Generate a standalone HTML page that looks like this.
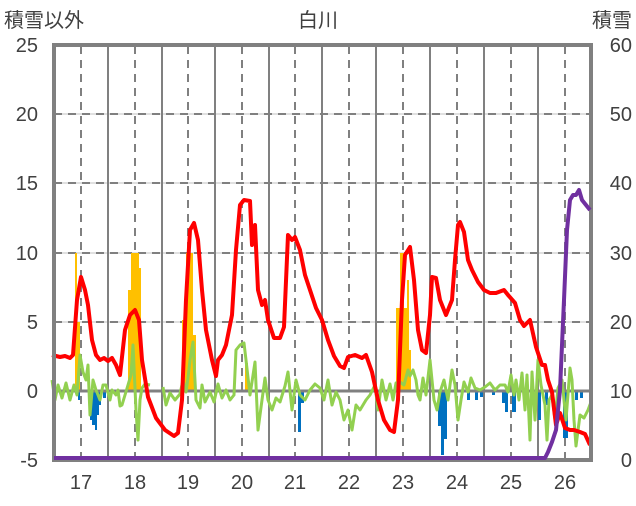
<!DOCTYPE html><html><head><meta charset="utf-8"><style>
body{margin:0;background:#fff}
svg text{font-family:"Liberation Sans","Noto Sans CJK JP",sans-serif;fill:#404040}
</style></head><body>
<svg width="636" height="501" xmlns="http://www.w3.org/2000/svg">
<g stroke="#c0c0c0" stroke-width="1"><line x1="54" y1="114" x2="591" y2="114"/><line x1="54" y1="183" x2="591" y2="183"/><line x1="54" y1="253" x2="591" y2="253"/><line x1="54" y1="322" x2="591" y2="322"/></g>
<g stroke="#808080" stroke-width="2" stroke-dasharray="8,6"><line x1="54" y1="114" x2="591" y2="114"/><line x1="54" y1="183" x2="591" y2="183"/><line x1="54" y1="253" x2="591" y2="253"/><line x1="54" y1="322" x2="591" y2="322"/>
<line x1="81" y1="46" x2="81" y2="460"/><line x1="135" y1="46" x2="135" y2="460"/><line x1="188" y1="46" x2="188" y2="460"/><line x1="242" y1="46" x2="242" y2="460"/><line x1="295" y1="46" x2="295" y2="460"/><line x1="349" y1="46" x2="349" y2="460"/><line x1="403" y1="46" x2="403" y2="460"/><line x1="457" y1="46" x2="457" y2="460"/><line x1="511" y1="46" x2="511" y2="460"/><line x1="565" y1="46" x2="565" y2="460"/></g>
<g stroke="#808080" stroke-width="2"><line x1="108" y1="46" x2="108" y2="460"/><line x1="162" y1="46" x2="162" y2="460"/><line x1="215" y1="46" x2="215" y2="460"/><line x1="269" y1="46" x2="269" y2="460"/><line x1="322" y1="46" x2="322" y2="460"/><line x1="376" y1="46" x2="376" y2="460"/><line x1="430" y1="46" x2="430" y2="460"/><line x1="484" y1="46" x2="484" y2="460"/><line x1="538" y1="46" x2="538" y2="460"/></g>
<g fill="#ffc000">
<rect x="75" y="253" width="2" height="138"/><rect x="77" y="322" width="3" height="69"/>
<rect x="128" y="290" width="3" height="101"/><rect x="131" y="253" width="8" height="138"/><rect x="139" y="268" width="2" height="123"/>
<rect x="182" y="320" width="4" height="71"/><rect x="186" y="253" width="7" height="138"/><rect x="193" y="335" width="3" height="56"/>
<rect x="245" y="363" width="3" height="28"/>
<rect x="396" y="308" width="4" height="83"/><rect x="400" y="253" width="4" height="138"/><rect x="404" y="308" width="3" height="83"/><rect x="407" y="280" width="2" height="111"/><rect x="409" y="350" width="2" height="41"/>
</g>
<g fill="#0070c0">
<rect x="78" y="391" width="2" height="9"/><rect x="90" y="391" width="2" height="29"/><rect x="92" y="391" width="3" height="34"/><rect x="95" y="391" width="2" height="39"/><rect x="97" y="391" width="2" height="24"/><rect x="99" y="391" width="2" height="14"/><rect x="103" y="391" width="3" height="7"/>
<rect x="298" y="391" width="3" height="41"/><rect x="301" y="391" width="3" height="12"/>
<rect x="438" y="391" width="3" height="35"/><rect x="441" y="391" width="3" height="64"/><rect x="444" y="391" width="3" height="48"/>
<rect x="467" y="391" width="3" height="9"/><rect x="475" y="391" width="3" height="9"/><rect x="480" y="391" width="3" height="6"/><rect x="492" y="391" width="3" height="4"/><rect x="502" y="391" width="3" height="12"/><rect x="505" y="391" width="3" height="21"/><rect x="512" y="391" width="4" height="21"/><rect x="530" y="391" width="4" height="9"/><rect x="538" y="391" width="3" height="29"/><rect x="545" y="391" width="3" height="14"/><rect x="563" y="391" width="5" height="47"/><rect x="575" y="391" width="3" height="9"/><rect x="580" y="391" width="3" height="7"/>
</g>
<line x1="54" y1="391" x2="591" y2="391" stroke="#808080" stroke-width="3"/>
<polyline fill="none" stroke="#92d050" stroke-width="3" stroke-linejoin="round" points="52,380 55,400 58,385 62,398 66,383 70,400 74,385 77,395 80,355 83,372 86,380 88,365 90,415 93,380 96,390 100,400 103,385 106,385 110,400 112,390 116,395 118,390 120,406 122,405 125,395 128,385 131,375 133,345 136,410 138,440 140,400 142,388 145,384 150,385"/>
<polyline fill="none" stroke="#92d050" stroke-width="3" stroke-linejoin="round" points="163,387 166,405 170,393 175,400 180,394 183,380 186,392 188,378 190,360 193,342 196,400 200,408 202,385 205,402 208,396 210,392 214,402 218,384 222,398 226,390 230,400 234,395 236,350 240,345 244,343 246,360 250,395 252,382 255,362 258,430 262,400 265,378 268,400 272,410 276,398 280,402 285,386 288,372 292,410 296,380 300,395 305,400 310,390 315,384 320,388 324,400 328,380 332,405 336,392 340,400 344,420 348,410 352,430 356,405 360,410 366,400 370,395 375,385 378,410 382,380 386,400 390,384 393,400 396,383 400,382 404,385 408,370 410,376 413,370 416,380 418,395 420,400 423,378 426,395 430,360 432,380 434,400 437,410 440,392 444,380 448,400 452,370 455,385 458,420 461,400 464,382 468,392 471,378 475,388 480,390 485,387 490,383 495,390 500,385 505,385 508,392 511,375 514,395 516,380 519,400 522,373 525,410 527,375 530,440 532,372 535,420 538,360 541,385 545,405 547,440 549,400 552,395 555,420 558,388 562,380 566,420 570,368 572,380 574,420 576,446 580,415 584,418 588,410 591,402"/>
<polyline fill="none" stroke="#ff0000" stroke-width="4" stroke-linejoin="round" points="52,355 60,357 65,356 70,358 73,355 77,300 81,277 85,290 88,305 92,340 96,355 100,360 104,358 108,361 112,358 116,365 120,375 125,330 130,315 135,310 139,320 142,360 148,397 156,418 165,430 174,436 178,433 182,400 186,300 190,230 194,223 198,240 202,290 206,330 212,360 216,376 218,360 222,355 226,345 232,315 236,250 240,205 244,200 250,201 252,245 255,225 258,290 262,305 265,300 268,320 274,338 280,338 284,327 288,235 292,240 295,237 300,250 305,275 310,290 316,308 322,320 328,340 334,356 340,366 344,368 348,357 355,355 362,358 366,355 372,372 378,400 384,420 390,430 394,432 398,400 402,300 405,255 410,247 414,280 418,330 422,350 426,353 430,315 432,277 436,278 440,300 446,315 452,300 455,260 458,225 460,222 464,232 468,260 472,270 478,282 484,290 490,293 496,293 504,290 508,295 515,303 520,320 524,326 530,320 536,347 542,365 545,365 548,380 552,392 556,425 560,413 565,428 570,430 574,430 580,432 585,434 590,445"/>
<rect x="54" y="45" width="537" height="415" fill="none" stroke="#808080" stroke-width="4"/>
<polyline fill="none" stroke="#7030a0" stroke-width="4" stroke-linejoin="round" points="54,458 545,458 548,452 552,442 556,430 560,390 564,300 567,230 570,200 573,195 576,195 579,190 582,200 586,205 590,210"/>
<text x="318" y="27" font-size="20" text-anchor="middle">白川</text>
<text x="4" y="27" font-size="20">積雪以外</text>
<text x="632" y="27" font-size="20" text-anchor="end">積雪</text>
<g font-size="20" text-anchor="end"><text x="38" y="52">25</text><text x="38" y="121">20</text><text x="38" y="190">15</text><text x="38" y="260">10</text><text x="38" y="329">5</text><text x="38" y="398">0</text><text x="38" y="467">-5</text></g>
<g font-size="20" text-anchor="end"><text x="632" y="52">60</text><text x="632" y="121">50</text><text x="632" y="190">40</text><text x="632" y="260">30</text><text x="632" y="329">20</text><text x="632" y="398">10</text><text x="632" y="467">0</text></g>
<g font-size="20" text-anchor="middle"><text x="81" y="489">17</text><text x="135" y="489">18</text><text x="188" y="489">19</text><text x="242" y="489">20</text><text x="295" y="489">21</text><text x="349" y="489">22</text><text x="403" y="489">23</text><text x="457" y="489">24</text><text x="511" y="489">25</text><text x="565" y="489">26</text></g>
</svg></body></html>
